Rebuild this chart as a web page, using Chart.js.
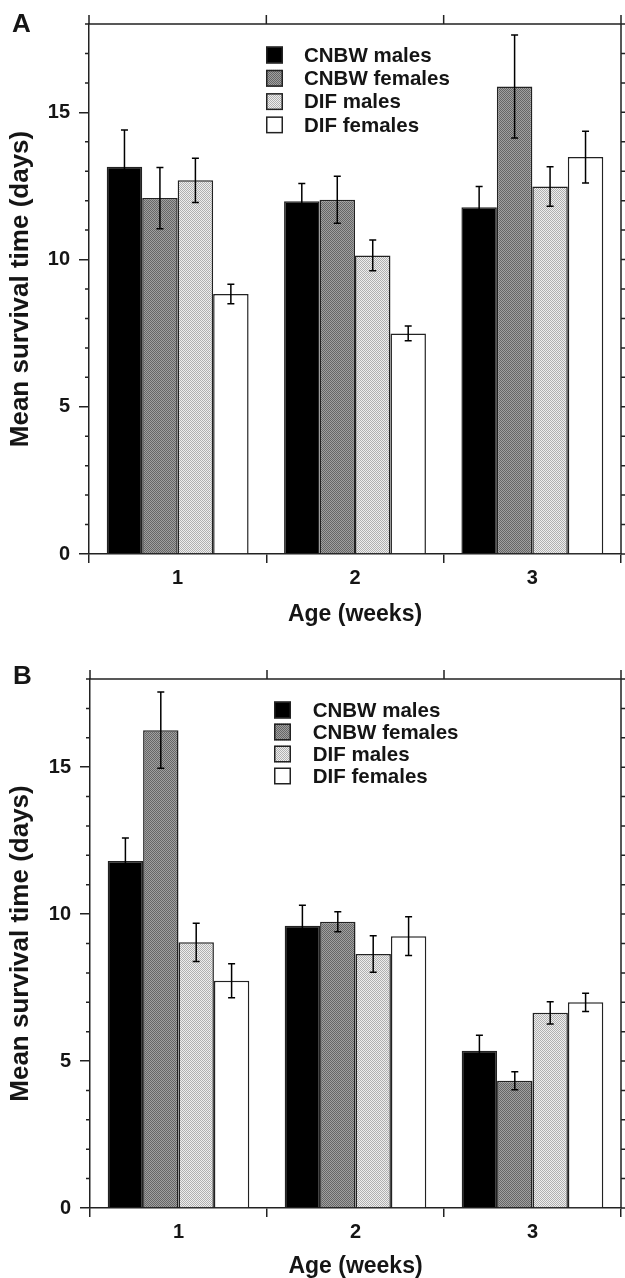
<!DOCTYPE html>
<html><head><meta charset="utf-8">
<script src="https://cdn.jsdelivr.net/npm/chart.js@4.4.1/dist/chart.umd.min.js"></script>
<style>
html,body{margin:0;padding:0;background:#fff;}
#wrap{position:relative;width:625px;height:1278px;overflow:hidden;background:#fff;}
canvas{position:absolute;left:0;}
</style></head><body>
<div id="wrap">
<canvas id="cA" width="625" height="640" style="top:0px"></canvas>
<canvas id="cB" width="625" height="640" style="top:640px"></canvas>
</div>
<script>
// ---------- data ----------
const categories = ['1', '2', '3'];
const seriesLabels = ['CNBW males', 'CNBW females', 'DIF males', 'DIF females'];
const yTicks = [0, 5, 10, 15];
const panelLabels = ['A', 'B'];
const xTitle = 'Age (weeks)';
const yTitle = 'Mean survival time (days)';

// Panel A means and error bars
const cnbwMalesA      = [13.15, 11.98, 11.78];
const cnbwMalesAErr   = [1.25, 0.60, 0.70];
const cnbwFemalesA    = [12.09, 12.03, 15.88];
const cnbwFemalesAErr = [1.04, 0.80, 1.75];
const difMalesA       = [12.69, 10.14, 12.48];
const difMalesAErr    = [0.75, 0.52, 0.67];
const difFemalesA     = [8.83, 7.49, 13.48];
const difFemalesAErr  = [0.33, 0.25, 0.88];

// Panel B means and error bars
const cnbwMalesB      = [11.81, 9.60, 5.35];
const cnbwMalesBErr   = [0.78, 0.70, 0.53];
const cnbwFemalesB    = [16.26, 9.74, 4.33];
const cnbwFemalesBErr = [1.30, 0.34, 0.31];
const difMalesB       = [9.04, 8.64, 6.64];
const difMalesBErr    = [0.65, 0.62, 0.38];
const difFemalesB     = [7.73, 9.25, 7.00];
const difFemalesBErr  = [0.58, 0.66, 0.31];

// ---------- styling ----------
const FONT = '"Liberation Sans", Arial, Helvetica, sans-serif';
const INK = '#151515';
const LINE = '#222';
Chart.defaults.font.family = FONT;
Chart.defaults.color = INK;

function makePattern(ctx, a, b) {
  const c = document.createElement('canvas');
  c.width = 2; c.height = 2;
  const x = c.getContext('2d');
  x.fillStyle = a; x.fillRect(0, 0, 2, 2);
  x.fillStyle = b; x.fillRect(0, 0, 1, 1); x.fillRect(1, 1, 1, 1);
  return ctx.createPattern(c, 'repeat');
}

const errorBars = {
  id: 'errorBars',
  afterDatasetsDraw(chart) {
    const ctx = chart.ctx, y = chart.scales.y;
    chart.data.datasets.forEach((ds, i) => {
      const meta = chart.getDatasetMeta(i);
      meta.data.forEach((bar, j) => {
        const v = ds.data[j], e = ds.errors[j];
        const yt = y.getPixelForValue(v + e), yb = y.getPixelForValue(v - e);
        ctx.save();
        ctx.strokeStyle = '#000';
        ctx.lineWidth = 1.5;
        ctx.beginPath();
        ctx.moveTo(bar.x, yt); ctx.lineTo(bar.x, yb);
        ctx.moveTo(bar.x - 3.5, yt); ctx.lineTo(bar.x + 3.5, yt);
        ctx.moveTo(bar.x - 3.5, yb); ctx.lineTo(bar.x + 3.5, yb);
        ctx.stroke();
        ctx.restore();
      });
    });
  }
};

const frame = {
  id: 'frame',
  afterDraw(chart) {
    const {ctx, chartArea: a, scales: {x, y}} = chart;
    ctx.save();
    ctx.strokeStyle = LINE;
    ctx.lineWidth = 1.5;
    ctx.beginPath();
    ctx.moveTo(a.left, a.top); ctx.lineTo(a.right, a.top); ctx.lineTo(a.right, a.bottom);
    for (let k = 0; k <= categories.length; k++) {
      const px = x.getPixelForValue(k - 0.5);
      ctx.moveTo(px, a.top); ctx.lineTo(px, a.top - 9);
    }
    for (let v = y.min; v <= y.max; v++) {
      const py = y.getPixelForValue(v);
      if (v % 5 !== 0) { ctx.moveTo(a.left - 4, py); ctx.lineTo(a.left, py); }
      ctx.moveTo(a.right, py); ctx.lineTo(a.right + 5, py);
    }
    ctx.stroke();
    ctx.restore();
  }
};

const insideLegend = {
  id: 'insideLegend',
  afterDraw(chart, args, opts) {
    const ctx = chart.ctx, a = chart.chartArea;
    ctx.save();
    chart.data.datasets.forEach((ds, i) => {
      const cy = a.top + opts.top + i * opts.spacing;
      const bx = a.left + opts.left;
      ctx.fillStyle = ds.backgroundColor;
      ctx.fillRect(bx, cy - 8.5, 17, 17);
      ctx.strokeStyle = LINE; ctx.lineWidth = 1.5;
      ctx.strokeRect(bx + 0.75, cy - 7.75, 15.5, 15.5);
      ctx.fillStyle = INK;
      ctx.font = 'bold 20.5px ' + FONT;
      ctx.textBaseline = 'middle';
      ctx.textAlign = 'left';
      ctx.fillText(ds.label, bx + opts.textGap, cy + 1);
    });
    ctx.restore();
  }
};

const panelLetter = {
  id: 'panelLetter',
  afterDraw(chart, args, opts) {
    const ctx = chart.ctx;
    ctx.save();
    ctx.fillStyle = INK;
    ctx.font = 'bold 26px ' + FONT;
    ctx.textBaseline = 'alphabetic';
    ctx.fillText(opts.text, opts.x, opts.y);
    ctx.restore();
  }
};

function buildChart(id, series, errs, cfg) {
  const canvas = document.getElementById(id);
  const ctx = canvas.getContext('2d');
  const fills = ['#000000', makePattern(ctx, '#a0a0a0', '#666666'), makePattern(ctx, '#eeeeee', '#b0b0b0'), '#ffffff'];
  const datasets = series.map((d, i) => ({
    label: seriesLabels[i],
    data: d,
    errors: errs[i],
    backgroundColor: fills[i],
    borderColor: LINE,
    borderWidth: 1.5,
    categoryPercentage: 0.8,
    barPercentage: 1.0
  }));
  return new Chart(canvas, {
    type: 'bar',
    data: {labels: categories, datasets},
    plugins: [errorBars, frame, insideLegend, panelLetter],
    options: {
      responsive: false,
      animation: false,
      devicePixelRatio: 1,
      layout: {padding: {top: cfg.top, right: 4, left: 0, bottom: 0}},
      plugins: {
        legend: {display: false},
        tooltip: {enabled: false},
        insideLegend: cfg.legend,
        panelLetter: cfg.letter
      },
      scales: {
        x: {
          afterFit: s => { s.height = cfg.xHeight; },
          ticks: {font: {size: 20, weight: 'bold'}, color: INK, padding: 3},
          grid: {drawOnChartArea: false, tickLength: 9, color: LINE, lineWidth: 1.5, offset: true},
          border: {display: true, color: LINE, width: 1.5},
          title: {display: true, text: xTitle, color: INK, font: {size: 23, weight: 'bold'}, padding: {top: 0, bottom: cfg.xTitlePad}}
        },
        y: {
          min: 0, max: 18,
          afterBuildTicks: s => { s.ticks = yTicks.map(v => ({value: v})); },
          afterFit: s => { s.width = cfg.yWidth; },
          ticks: {font: {size: 20, weight: 'bold'}, color: INK, padding: 9},
          grid: {drawOnChartArea: false, tickLength: 10, color: LINE, lineWidth: 1.5},
          border: {display: true, color: LINE, width: 1.5},
          title: {display: true, text: yTitle, color: INK, font: {size: 26, weight: 'bold'}, padding: {top: 5, bottom: 0}}
        }
      }
    }
  });
}

buildChart('cA',
  [cnbwMalesA, cnbwFemalesA, difMalesA, difFemalesA],
  [cnbwMalesAErr, cnbwFemalesAErr, difMalesAErr, difFemalesAErr],
  {top: 24, xHeight: 86, yWidth: 89, xTitlePad: 12,
   legend: {left: 177, top: 31, spacing: 23.3, textGap: 38},
   letter: {text: panelLabels[0], x: 12, y: 32}});

buildChart('cB',
  [cnbwMalesB, cnbwFemalesB, difMalesB, difFemalesB],
  [cnbwMalesBErr, cnbwFemalesBErr, difMalesBErr, difFemalesBErr],
  {top: 39, xHeight: 72, yWidth: 90, xTitlePad: 0,
   legend: {left: 184, top: 31, spacing: 22, textGap: 38.7},
   letter: {text: panelLabels[1], x: 13, y: 44}});
</script>
</body></html>
